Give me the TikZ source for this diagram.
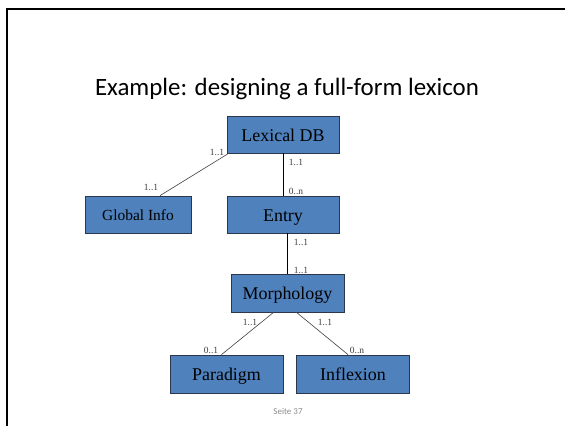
\documentclass[tikz,border=0pt]{standalone}
\usepackage{fontspec}
\setmainfont{Liberation Serif}
\newfontfamily\titlefont{Carlito}
\definecolor{boxfill}{RGB}{79,129,189}
\definecolor{boxline}{RGB}{45,55,75}
\definecolor{labgray}{RGB}{60,60,60}
\begin{document}
\begin{tikzpicture}[x=1bp,y=-1bp,
  entity/.style={draw=boxline,fill=boxfill,line width=0.8bp,inner sep=0pt,
    minimum width=112bp,minimum height=37bp,text=black,
    text height=13bp,text depth=0bp,font=\fontsize{18}{20}\selectfont},
  card/.style={inner sep=0pt,text=labgray,font=\fontsize{9.5}{10}\selectfont},
  thinlink/.style={draw=black!75,line width=0.6bp},
  boldlink/.style={draw=black,line width=1bp}]
\useasboundingbox (0,0) rectangle (565,426);
\fill[white] (0,0) rectangle (565,426);
% frame
\draw[line width=2bp,black] (565,8.5) -- (6.5,8.5) -- (6.5,426);
% title
\node[anchor=base,inner sep=0pt,font=\titlefont\fontsize{25}{28}\selectfont] (title) at (287,95) {Example: designing a full-form lexicon};
% entities
\node[entity] (lex) at (283,134.5) {Lexical DB};
\node[entity,minimum width=106bp,text height=11bp,font=\fontsize{15.5}{17}\selectfont] (glob) at (138,214.5) {Global Info};
\node[entity] (entry) at (283,214.5) {Entry};
\node[entity,minimum width=113bp,minimum height=38bp] (morph) at (287.5,293) {Morphology};
\node[entity,minimum width=113bp,minimum height=38bp] (para) at (226.5,374) {Paradigm};
\node[entity,minimum width=113bp,minimum height=38bp] (infl) at (353,374) {Inflexion};
% connectors
\draw[thinlink] ([xshift=2bp]lex.south west) -- ([xshift=22bp]glob.north);
\draw[boldlink] (lex.south) -- (entry.north);
\draw[boldlink] (entry.south -| morph.north) -- (morph.north);
\draw[thinlink] ([xshift=-14bp]morph.south) -- ([xshift=-5bp]para.north);
\draw[thinlink] ([xshift=9bp]morph.south) -- ([xshift=-5bp]infl.north);
% cardinalities
\node[card] (c1) at (217,152) {1..1};
\node[card] (c2) at (151,187) {1..1};
\node[card] (c3) at (296,162) {1..1};
\node[card] (c4) at (296,191) {0..n};
\node[card] (c5) at (301,242) {1..1};
\node[card] (c6) at (301,270) {1..1};
\node[card] (c7) at (250,322) {1..1};
\node[card] (c8) at (325,322) {1..1};
\node[card] (c9) at (211,350) {0..1};
\node[card] (c10) at (357,350) {0..n};
% footer
\node[inner sep=0pt,text=black!45,font=\titlefont\fontsize{9}{10}\selectfont] (page) at (288,411) {Seite 37};
\end{tikzpicture}
\end{document}
